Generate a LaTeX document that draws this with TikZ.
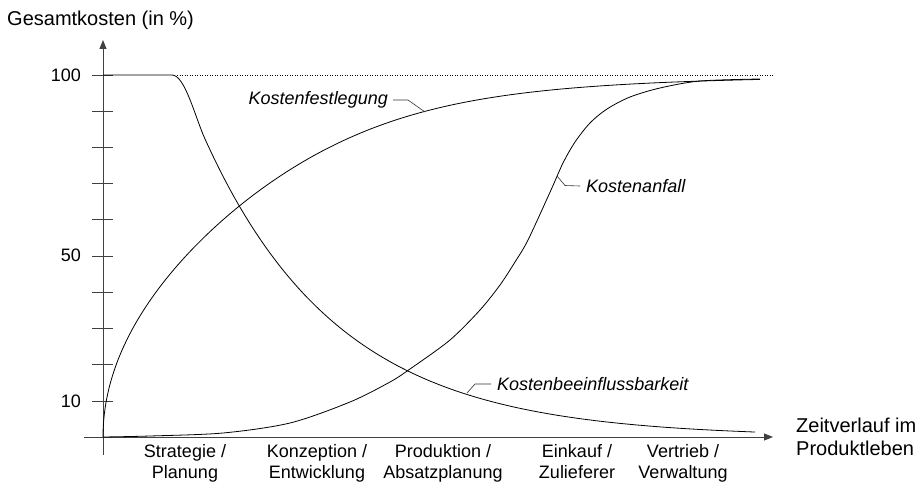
\documentclass[tikz,border=0pt]{standalone}
\usepackage{fontspec}
\setmainfont{Liberation Sans}
\usetikzlibrary{arrows.meta}
\begin{document}
\begin{tikzpicture}[x=1pt,y=-1pt,
  axis/.style={draw=black!75, line width=0.9pt},
  curve/.style={draw=black, line width=0.8pt, line join=round},
  leader/.style={draw=black!80, line width=0.6pt},
  lbl/.style={font=\fontsize{18}{21.5}\selectfont, inner sep=0pt},
  title/.style={font=\fontsize{20}{22.5}\selectfont, inner sep=0pt},
  curvelbl/.style={inner sep=0pt, font=\fontsize{18}{21.5}\selectfont\itshape},
  phase/.style={lbl, anchor=base},
  tip/.style={-{Triangle[length=9pt,width=7pt]}}]
\useasboundingbox (0,0) rectangle (920,484);

% axes
\draw[axis, tip] (103,455) -- (103,40);
\draw[axis, tip] (84,437) -- (773,437);
\foreach \i in {0,...,9}
  \draw[axis] (92,{75+36.22*\i}) -- (113,{75+36.22*\i});

% 100 % reference line
\draw[dash pattern=on 1pt off 1.5pt, line width=0.6pt] (177,75) -- (773,75);

% axis texts
\node[title, anchor=west] (ytitle) at (7,20) {Gesamtkosten (in \%)};
\node[lbl, anchor=east] (y100) at (81,75) {100};
\node[lbl, anchor=east] (y50) at (81,255) {50};
\node[lbl, anchor=east] (y10) at (81,401) {10};
\node[title, anchor=west, align=left] (xtitle) at (796,437) {Zeitverlauf im\\Produktleben};

% phases (two lines each, set on fixed baselines)
\node[phase] (p1a) at (185,457) {Strategie /};
\node[phase] (p1b) at (185,478.5) {Planung};
\node[phase] (p2a) at (317,457) {Konzeption /};
\node[phase] (p2b) at (317,478.5) {Entwicklung};
\node[phase] (p3a) at (443,457) {Produktion /};
\node[phase] (p3b) at (443,478.5) {Absatzplanung};
\node[phase] (p4a) at (577,457) {Einkauf /};
\node[phase] (p4b) at (577,478.5) {Zulieferer};
\node[phase] (p5a) at (683,457) {Vertrieb /};
\node[phase] (p5b) at (683,478.5) {Verwaltung};

% Kostenbeeinflussbarkeit
\draw[curve] (103,75) -- (172,75) .. controls (185,75) and (195,117) .. (205,139)
  -- plot[domain=205:755, samples=80, smooth] (\x, {437-298*exp(-0.00743*(\x-205))});

% Kostenfestlegung: square-root rise that saturates near 100 %
\draw[curve] plot[domain=0:25.63, samples=70, smooth, variable=\t]
  ({103+\t*\t}, {437-362*(0.055*\t)/((1+(0.055*\t)^7)^(1/7))});

% Kostenanfall
\draw[curve] plot[smooth, tension=0.5] coordinates {
  (103,437) (150,436) (223,433) (290,423) (350,402) (390,382) (410,369)
  (450,340) (480,310) (500,285) (515,262) (528,240) (551,190) (563,163)
  (575,142) (590,123) (607,109) (630,97) (660,88) (700,81) (760,79)};

% curve labels with leaders
\node[curvelbl, anchor=east] (lfest) at (388,100) {Kostenfestlegung};
\coordinate (cfest) at (425,112);
\draw[leader] (lfest.east) ++(5,0) -- (408,100) -- (cfest);

\node[curvelbl, anchor=west] (lanf) at (586,186) {Kostenanfall};
\coordinate (canf) at (557,176);
\draw[leader] (canf) -- (565,185.5) -- ([xshift=-6pt]lanf.west);

\node[curvelbl, anchor=west] (lbee) at (497,384) {Kostenbeeinflussbarkeit};
\coordinate (cbee) at (467,393);
\draw[leader] (cbee) -- (475,384) -- ([xshift=-6pt]lbee.west);
\end{tikzpicture}
\end{document}
